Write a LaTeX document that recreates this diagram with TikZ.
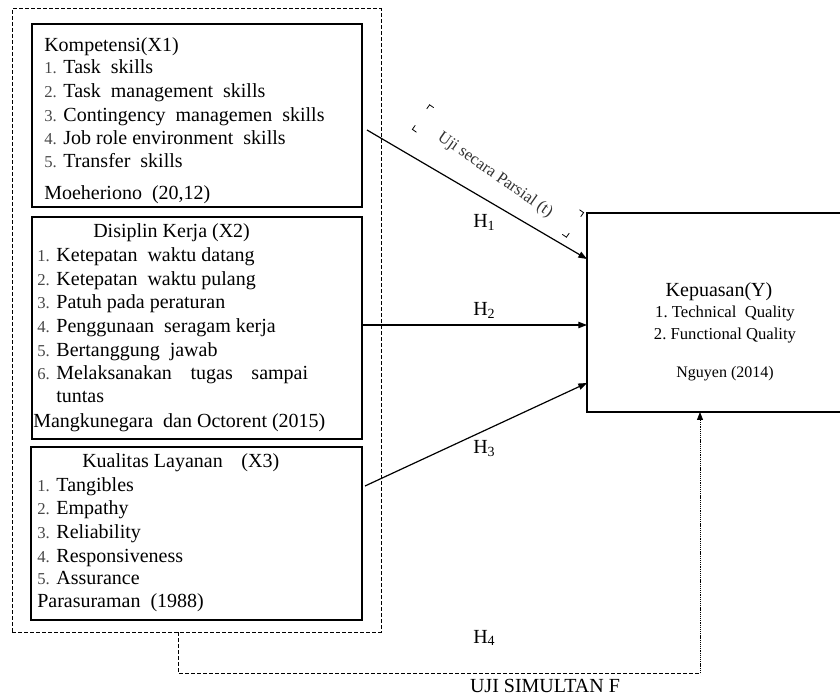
\documentclass[tikz,border=0pt]{standalone}
\usepackage{fontspec}
\setmainfont{Liberation Serif}
\usetikzlibrary{arrows.meta,fit}
\newcommand\numlbl[1]{{\fontsize{12.5}{14}\selectfont\color{black!72}#1}}
\begin{document}
\begin{tikzpicture}[x=0.75pt,y=-0.75pt,
  box/.style={draw, line width=0.9pt, inner sep=0pt},
  ybox/.style={draw, line width=1.7pt, inner sep=0pt},
  dashbox/.style={draw, line width=0.75pt, dash pattern=on 3pt off 1.5pt, inner sep=0pt},
  txt/.style={anchor=base west, inner sep=0pt, font=\fontsize{15}{18}\selectfont},
  ctxt/.style={anchor=base, inner sep=0pt, font=\fontsize{15}{18}\selectfont},
  stxt/.style={anchor=base, inner sep=0pt, font=\fontsize{12.5}{15}\selectfont},
  arr/.style={line width=0.9pt, -{Triangle[length=6.5pt,width=4.8pt]}},
  dashline/.style={line width=0.75pt, dash pattern=on 3pt off 1.5pt},
  dotline/.style={line width=0.6pt, dash pattern=on 0.8pt off 0.6pt, -{Triangle[length=6pt,width=4.5pt]}},
  cornermark/.style={line width=0.6pt}
]
\useasboundingbox (0,0) rectangle (840,695);
\clip (0,0) rectangle (840,695);

% outer dashed frame
\node[dashbox, fit={(12,9) (381,632)}] (outer) {};

% box 1
\node[box, fit={(32,24) (362,207)}] (b1) {};
\node[txt] (b1t) at (44,52) {Kompetensi(X1)};
\node[txt] (b1n1) at (44,74) {\numlbl{1.} Task\ \ skills};
\node[txt] (b1n2) at (44,98) {\numlbl{2.} Task\ \ management\ \ skills};
\node[txt] (b1n3) at (44,122) {\numlbl{3.} Contingency\ \ managemen\ \ skills};
\node[txt] (b1n4) at (44,145) {\numlbl{4.} Job role environment\ \ skills};
\node[txt] (b1n5) at (44,168) {\numlbl{5.} Transfer\ \ skills};
\node[txt] (b1s) at (44,200) {Moeheriono\ \ (20,12)};

% box 2
\node[box, fit={(32,217) (362,439)}] (b2) {};
\node[txt] (b2t) at (93,238) {Disiplin Kerja (X2)};
\node[txt] (b2n1) at (37,262) {\numlbl{1.} Ketepatan\ \ waktu datang};
\node[txt] (b2n2) at (37,286) {\numlbl{2.} Ketepatan\ \ waktu pulang};
\node[txt] (b2n3) at (37,309) {\numlbl{3.} Patuh pada peraturan};
\node[txt] (b2n4) at (37,333) {\numlbl{4.} Penggunaan\ \ seragam kerja};
\node[txt] (b2n5) at (37,357) {\numlbl{5.} Bertanggung\ \ jawab};
\node[txt] (b2n6) at (37,380) {\numlbl{6.} Melaksanakan\hspace{14pt}tugas\hspace{14pt}sampai};
\node[txt] (b2n6b) at (56,403) {tuntas};
\node[txt] (b2s) at (33,428) {Mangkunegara\ \ dan Octorent (2015)};

% box 3
\node[box, fit={(31,447) (362,620)}] (b3) {};
\node[txt] (b3t) at (82,468) {Kualitas Layanan\hspace{14pt}(X3)};
\node[txt] (b3n1) at (37,492) {\numlbl{1.} Tangibles};
\node[txt] (b3n2) at (37,515) {\numlbl{2.} Empathy};
\node[txt] (b3n3) at (37,538) {\numlbl{3.} Reliability};
\node[txt] (b3n4) at (37,562) {\numlbl{4.} Responsiveness};
\node[txt] (b3n5) at (37,585) {\numlbl{5.} Assurance};
\node[txt] (b3s) at (37,608) {Parasuraman\ \ (1988)};

% Y box
\node[ybox, fit={(587,213) (845,412)}] (y) {};
\node[ctxt] (yt) at (719,297) {Kepuasan(Y)};
\node[stxt] (yn1) at (725,318) {1.\ Technical\ \ Quality};
\node[stxt] (yn2) at (725,340) {2.\ Functional Quality};
\node[anchor=base, inner sep=0pt, font=\fontsize{12}{14}\selectfont] (ys) at (725,378) {Nguyen (2014)};

% connectors
\coordinate (h1s) at (367,130);
\coordinate (h1e) at (587,259);
\coordinate (h2s) at (362,325);
\coordinate (h2e) at (587,325);
\coordinate (h3s) at (365,486);
\coordinate (h3e) at (587,383);
\coordinate (h4a) at (178,632);
\coordinate (h4b) at (178,673);
\coordinate (h4c) at (700,673);
\coordinate (h4e) at (700,412);
\draw[arr] (h1s) -- (h1e);
\draw[arr] (h2s) -- (h2e);
\draw[arr] (h3s) -- (h3e);
\draw[dashline] (h4a) -- (h4b) -- (h4c);
\draw[dotline] (h4c) -- (h4e);

% labels
\node[txt] (lh1) at (473,228) {H\textsubscript{1}};
\node[txt] (lh2) at (473,316) {H\textsubscript{2}};
\node[txt] (lh3) at (473,454) {H\textsubscript{3}};
\node[txt] (lh4) at (473,643) {H\textsubscript{4}};
\node[ctxt] (uji) at (545,692) {UJI SIMULTAN F};

% rotated partial-test text with corner marks
\begin{scope}[shift={(498,171)}, rotate=-35]
  \node[inner sep=0pt, rotate=-35, font=\fontsize{12.5}{15}\selectfont, text=black!80] (parsial) at (0,5) {Uji secara Parsial (t)};
  \draw[cornermark] (-89,-15) -- (-94,-15) -- (-94,-10);
  \draw[cornermark] (-94,10) -- (-94,15) -- (-89,15);
  \draw[cornermark] (89,-15) -- (94,-15) -- (94,-10);
  \draw[cornermark] (94,10) -- (94,15) -- (89,15);
\end{scope}
\end{tikzpicture}
\end{document}
